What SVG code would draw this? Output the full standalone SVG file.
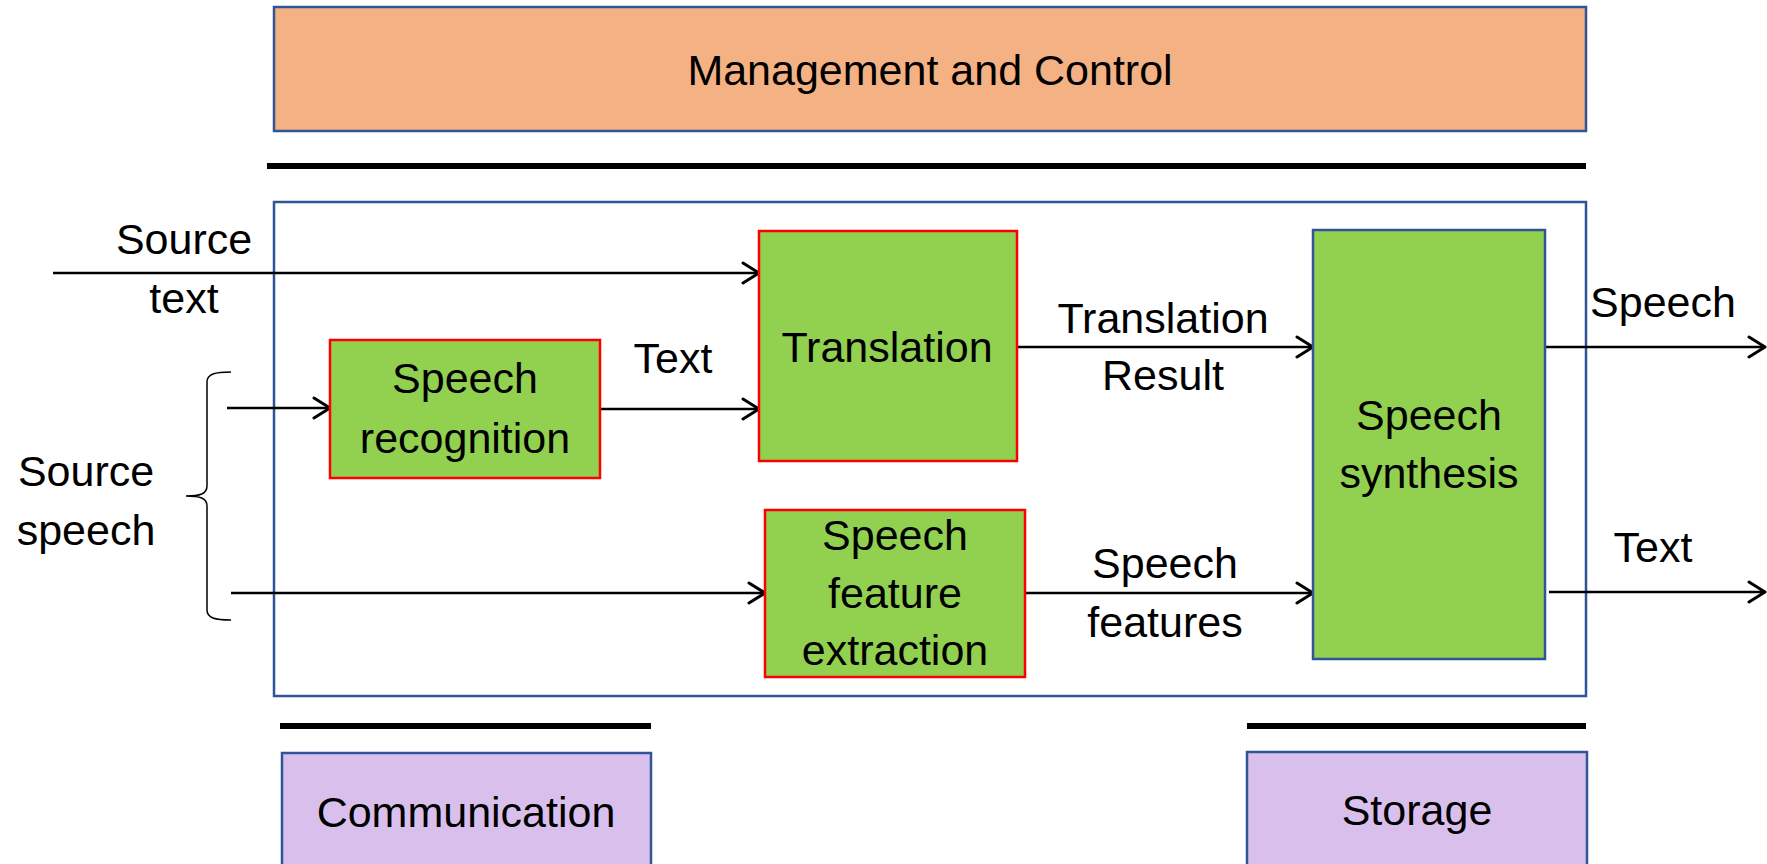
<svg xmlns="http://www.w3.org/2000/svg" width="1767" height="864" viewBox="0 0 1767 864">
<style>
text{font-family:"Liberation Sans",Arial,sans-serif;font-size:43px;fill:#000;text-anchor:middle}
.green{fill:#92D050;stroke:#FF0000;stroke-width:2.5}
.blue{stroke:#2F5597;stroke-width:2.5}
.purple{fill:#D9BFEC;stroke:#2F5597;stroke-width:2.5}
.bar{stroke:#000;stroke-width:6}
.conn{fill:none;stroke:#000;stroke-width:2.5;marker-end:url(#ah)}
</style>
<defs>
<marker id="ah" markerUnits="userSpaceOnUse" markerWidth="22" markerHeight="26" refX="18" refY="12" orient="auto" viewBox="0 0 22 26">
<path d="M2,2 L18,12 L2,22" fill="none" stroke="#000" stroke-width="3" stroke-linejoin="round" stroke-linecap="round"/>
</marker>
</defs>
<rect width="1767" height="864" fill="#fff"/>
<g id="management">
<rect x="274" y="7" width="1312" height="124" fill="#F4B183" class="blue"/>
<text x="930" y="85">Management and Control</text>
</g>
<g id="bars">
<line x1="267" y1="166" x2="1586" y2="166" class="bar"/>
<line x1="280" y1="726" x2="651" y2="726" class="bar"/>
<line x1="1247" y1="726" x2="1586" y2="726" class="bar"/>
</g>
<g id="container">
<rect x="274" y="202" width="1312" height="494" fill="none" class="blue"/>
</g>
<g id="source-labels">
<text x="184" y="254">Source</text>
<text x="184" y="313">text</text>
<text x="86" y="486">Source</text>
<text x="86" y="545">speech</text>
<path d="M231,372 C215,372 207,374 207,382 V486 C207,494 200,496 186,496 C200,496 207,498 207,506 V610 C207,618 215,620 231,620" fill="none" stroke="#000" stroke-width="1.5"/>
</g>
<g id="connectors">
<path class="conn" d="M53,273 H759"/>
<path class="conn" d="M227,408 H330"/>
<path class="conn" d="M600,409 H759"/>
<path class="conn" d="M231,593 H765"/>
<path class="conn" d="M1017,347 H1313"/>
<path class="conn" d="M1025,593 H1313"/>
<path class="conn" d="M1545,347 H1765"/>
<path class="conn" d="M1549,592 H1765"/>
<text x="673" y="373">Text</text>
<text x="1163" y="333">Translation</text>
<text x="1163" y="390">Result</text>
<text x="1165" y="578">Speech</text>
<text x="1165" y="637">features</text>
<text x="1663" y="317">Speech</text>
<text x="1653" y="562">Text</text>
</g>
<g id="speech-recognition">
<rect x="330" y="340" width="270" height="138" class="green"/>
<text x="465" y="393">Speech</text>
<text x="465" y="453">recognition</text>
</g>
<g id="translation">
<rect x="759" y="231" width="258" height="230" class="green"/>
<text x="887" y="362">Translation</text>
</g>
<g id="feature-extraction">
<rect x="765" y="510" width="260" height="167" class="green"/>
<text x="895" y="550">Speech</text>
<text x="895" y="608">feature</text>
<text x="895" y="665">extraction</text>
</g>
<g id="speech-synthesis">
<rect x="1313" y="230" width="232" height="429" fill="#92D050" class="blue"/>
<text x="1429" y="430">Speech</text>
<text x="1429" y="488">synthesis</text>
</g>
<g id="communication">
<rect x="282" y="753" width="369" height="130" class="purple"/>
<text x="466" y="827">Communication</text>
</g>
<g id="storage">
<rect x="1247" y="752" width="340" height="130" class="purple"/>
<text x="1417" y="825">Storage</text>
</g>
</svg>
